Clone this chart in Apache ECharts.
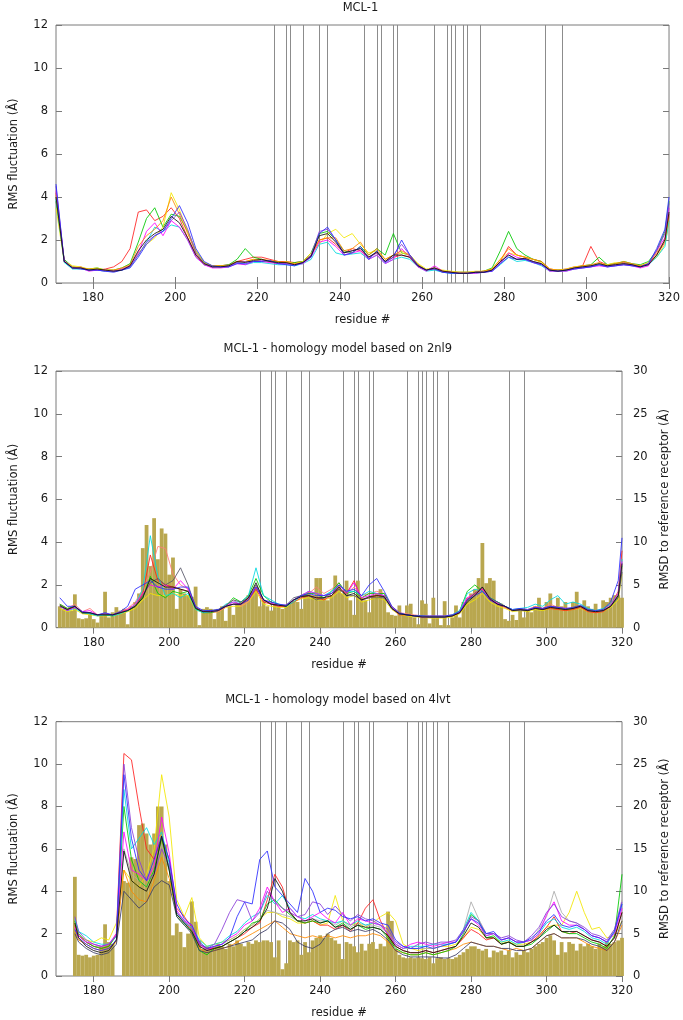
<!DOCTYPE html>
<html><head><meta charset="utf-8">
<script src="https://cdn.jsdelivr.net/npm/echarts@6/dist/echarts.min.js"></script>
<style>html,body{margin:0;padding:0;background:#fff}#c{width:683px;height:1020px}</style>
</head><body><div id="c"></div>
<script>
// ---------- DATA ----------
const xTicks = [180, 200, 220, 240, 260, 280, 300, 320];
const yTicksLeft = [0, 2, 4, 6, 8, 10, 12];
const yTicksRight = [0, 5, 10, 15, 20, 25, 30];
const contactResidues = [224, 227, 228, 231, 235, 237, 246, 249, 250, 253, 254, 263, 266, 267, 268, 270, 271, 274, 290, 294];
const panelTitles = ['MCL-1', 'MCL-1 - homology model based on 2nl9', 'MCL-1 - homology model based on 4lvt'];

// residues sampled for the RMS fluctuation curves
const resP1 = [171,173,175,177,179,181,183,185,187,189,191,193,195,197,199,201,203,205,207,209,211,213,215,217,219,221,223,225,227,229,231,233,235,237,239,241,243,245,247,249,251,253,255,257,259,261,263,265,267,269,271,273,275,277,279,281,283,285,287,289,291,293,295,297,299,301,303,305,307,309,311,313,315,317,319,320];
const resP2 = resP1;
const resP3 = [175,176,178,180,182,184,186,188,190,192,194,196,198,200,202,204,206,208,210,212,214,216,218,220,222,224,226,228,230,232,234,236,238,240,242,244,246,248,250,252,254,256,258,260,262,264,266,268,270,272,274,276,278,280,282,284,286,288,290,292,294,296,298,300,302,304,306,308,310,312,314,316,318,320];

// Panel 1: MCL-1 (RMS fluctuation, Å)
const p1Red     = [4.2,1.0,0.7,0.75,0.6,0.6,0.65,0.75,1.0,1.6, 3.3,3.4,2.9,3.1,3.5,3.0,2.1,1.3,0.85,0.75, 0.8,0.85,1.0,1.1,1.2,1.2,1.1,1.0,1.0,0.95, 1.0,1.3,2.0,2.1,1.8,1.4,1.6,1.5,1.2,1.4, 1.0,1.2,1.3,1.2,0.75,0.6,0.65,0.5,0.5,0.45, 0.45,0.5,0.55,0.6,1.0,1.7,1.3,1.2,1.1,1.0, 0.65,0.6,0.65,0.75,0.8,1.7,1.0,0.85,0.9,0.95, 0.85,0.8,0.85,1.3,1.9,3.2];
const p1Green   = [3.8,1.1,0.75,0.7,0.65,0.7,0.6,0.6,0.7,0.9, 1.9,3.0,3.5,2.6,3.2,3.1,2.4,1.5,0.95,0.8, 0.8,0.85,1.1,1.6,1.2,1.1,1.0,1.0,0.9,0.95, 1.0,1.4,2.3,2.4,2.0,1.5,1.4,1.7,1.3,1.6, 1.3,2.3,1.4,1.3,0.85,0.6,0.7,0.55,0.5,0.5, 0.5,0.5,0.55,0.7,1.5,2.4,1.6,1.3,1.1,1.0, 0.6,0.6,0.6,0.7,0.8,0.85,1.2,0.85,0.9,1.0, 0.9,0.85,1.0,1.5,2.4,3.8];
const p1Blue    = [4.6,1.0,0.7,0.65,0.6,0.6,0.55,0.5,0.6,0.7, 1.2,1.8,2.2,2.4,3.0,3.6,2.8,1.6,1.0,0.8, 0.75,0.75,0.9,0.9,1.0,1.0,1.05,0.9,0.85,0.8, 0.95,1.2,2.3,2.6,2.0,1.3,1.4,1.7,1.1,1.5, 0.95,1.2,2.0,1.3,0.8,0.6,0.65,0.5,0.45,0.45, 0.45,0.5,0.5,0.55,0.9,1.2,1.1,1.1,0.95,0.85, 0.6,0.55,0.6,0.65,0.7,0.75,0.85,0.75,0.8,0.85, 0.8,0.75,0.9,1.6,2.5,4.0];
const p1Yellow  = [3.5,1.0,0.8,0.75,0.65,0.7,0.6,0.6,0.65,0.8, 1.4,1.8,2.1,2.6,4.2,3.4,2.4,1.5,0.95,0.8, 0.8,0.8,1.0,1.0,1.1,1.0,1.0,0.9,1.0,0.9, 1.0,1.4,1.8,2.3,2.5,2.1,2.3,1.8,1.4,1.5, 1.1,1.3,1.4,1.3,0.9,0.65,0.7,0.6,0.55,0.5, 0.5,0.55,0.55,0.65,1.1,1.4,1.3,1.2,1.1,0.95, 0.65,0.6,0.65,0.75,0.8,0.8,0.9,0.85,0.95,0.9, 0.85,0.8,0.95,1.2,1.8,2.8];
const p1Magenta = [4.3,1.05,0.7,0.7,0.55,0.6,0.6,0.55,0.65,0.8, 1.4,2.4,2.8,2.2,2.9,2.6,2.0,1.2,0.85,0.7, 0.7,0.75,0.9,0.85,1.0,1.0,0.95,0.9,0.9,0.85, 0.9,1.2,1.9,2.0,1.7,1.3,1.4,1.5,1.1,1.3, 0.9,1.1,1.6,1.2,0.75,0.55,0.8,0.55,0.5,0.45, 0.45,0.45,0.5,0.55,0.9,1.4,1.2,1.1,0.95,0.85, 0.55,0.55,0.55,0.65,0.7,0.75,0.8,0.75,0.8,0.85, 0.8,0.7,0.8,1.5,2.1,3.5];
const p1Cyan    = [3.9,0.95,0.65,0.65,0.6,0.6,0.55,0.55,0.6,0.75, 1.3,1.9,2.6,2.4,2.7,2.6,2.0,1.2,0.85,0.75, 0.75,0.75,0.95,0.85,0.95,0.95,0.9,0.85,0.85,0.8, 0.9,1.1,1.8,1.9,1.4,1.3,1.35,1.4,1.1,1.3, 0.9,1.1,1.2,1.1,0.75,0.55,0.6,0.5,0.45,0.45, 0.45,0.45,0.5,0.55,0.85,1.2,1.0,1.05,0.95,0.8, 0.55,0.55,0.55,0.65,0.7,0.75,0.85,0.75,0.8,0.85, 0.8,0.75,0.85,1.2,1.7,2.9];
const p1Orange  = [4.1,1.0,0.75,0.7,0.65,0.65,0.6,0.6,0.7,0.85, 1.7,2.2,2.5,2.9,4.0,3.2,2.3,1.4,0.9,0.8, 0.8,0.8,1.0,1.0,1.1,1.1,1.05,1.0,0.95,0.9, 0.95,1.3,2.0,2.1,2.1,1.5,1.6,1.9,1.3,1.6, 1.1,1.3,1.5,1.3,0.85,0.6,0.7,0.55,0.5,0.5, 0.5,0.5,0.55,0.65,1.1,1.6,1.3,1.2,1.1,1.0, 0.65,0.6,0.6,0.7,0.8,0.85,0.95,0.8,0.9,1.0, 0.9,0.8,0.9,1.4,2.0,3.1];
const p1Purple  = [4.5,1.0,0.7,0.7,0.6,0.6,0.55,0.55,0.6,0.75, 1.3,1.9,2.2,2.4,2.9,3.3,2.5,1.4,0.9,0.75, 0.75,0.8,0.95,1.0,1.0,1.05,1.0,0.9,0.9,0.85, 0.95,1.3,2.4,2.5,2.0,1.4,1.5,1.6,1.2,1.4, 1.0,1.3,1.8,1.3,0.8,0.6,0.7,0.5,0.5,0.45, 0.45,0.5,0.5,0.6,0.95,1.3,1.1,1.1,1.0,0.9, 0.6,0.55,0.6,0.7,0.75,0.8,0.85,0.8,0.85,0.9, 0.85,0.75,0.9,1.5,2.3,3.7];
const p1Black   = [4.0,1.0,0.7,0.7,0.6,0.65,0.6,0.55,0.6,0.8, 1.5,2.0,2.3,2.5,3.1,2.8,2.1,1.3,0.9,0.75, 0.75,0.8,1.0,0.95,1.05,1.1,1.0,0.95,0.95,0.85, 0.95,1.25,2.2,2.3,1.9,1.4,1.5,1.6,1.2,1.45, 1.0,1.3,1.3,1.2,0.8,0.6,0.7,0.55,0.5,0.45, 0.45,0.5,0.5,0.6,1.0,1.3,1.1,1.15,1.0,0.9, 0.6,0.55,0.6,0.7,0.75,0.8,0.9,0.8,0.85,0.9, 0.85,0.75,0.85,1.3,2.0,3.3];

// Panel 2: homology model 2nl9 (RMS fluctuation, Å)
const p2Cyan    = [1.0,0.8,0.9,0.7,0.65,0.55,0.6,0.55,0.65,0.8, 1.1,1.8,4.3,2.4,1.5,1.6,1.4,1.6,0.85,0.7, 0.75,0.8,1.1,1.2,1.2,1.5,2.8,1.5,1.3,1.1, 1.0,1.2,1.5,1.7,1.6,1.5,1.7,2.0,1.7,1.7, 1.5,1.7,1.6,1.5,0.9,0.65,0.6,0.55,0.55,0.5, 0.5,0.5,0.6,0.8,1.6,1.8,1.7,1.4,1.2,1.0, 0.85,0.9,0.95,1.1,1.0,1.3,1.5,1.1,1.2,1.1, 0.9,0.8,0.9,1.1,1.6,3.2];
const p2Red     = [1.0,0.85,0.95,0.7,0.65,0.6,0.6,0.6,0.7,0.85, 1.0,1.6,3.4,2.2,2.0,1.9,1.8,1.7,0.9,0.75, 0.75,0.8,1.0,1.1,1.1,1.3,1.8,1.2,1.1,1.0, 1.0,1.2,1.4,1.5,1.4,1.3,1.5,1.8,1.6,2.2, 1.3,1.4,1.5,1.5,0.9,0.6,0.6,0.55,0.5,0.5, 0.5,0.5,0.55,0.7,1.3,1.6,1.8,1.3,1.1,0.95, 0.8,0.85,0.8,0.95,0.85,0.9,0.85,0.8,0.85,0.95, 0.75,0.7,0.75,1.0,1.7,3.6];
const p2Pink    = [1.1,0.9,1.1,0.75,0.9,0.6,0.65,0.6,0.75,0.9, 1.2,1.8,2.6,3.8,3.7,2.5,2.0,1.8,0.95,0.75, 0.7,0.75,0.95,1.3,1.0,1.2,1.9,1.3,1.1,1.0, 1.0,1.3,1.5,1.6,1.9,1.6,1.8,2.1,1.6,1.9, 1.5,1.6,1.7,1.6,1.0,0.7,0.65,0.6,0.55,0.55, 0.55,0.55,0.6,0.75,1.4,1.5,1.9,1.4,1.2,1.0, 0.8,0.9,0.85,1.0,0.9,1.1,0.95,0.85,0.9,1.0, 0.8,0.75,0.8,1.1,1.5,2.8];
const p2Gray    = [1.0,0.85,1.0,0.7,0.7,0.6,0.65,0.6,0.7,0.8, 1.0,1.5,2.1,2.3,2.0,2.2,2.8,2.0,0.95,0.75, 0.8,0.85,1.05,1.3,1.2,1.4,2.0,1.3,1.1,1.05, 1.05,1.4,1.5,1.5,1.3,1.4,1.6,1.8,1.5,1.5, 1.3,1.4,1.4,1.4,0.9,0.65,0.6,0.55,0.55,0.5, 0.5,0.5,0.55,0.7,1.3,1.6,1.9,1.4,1.2,1.0, 0.8,0.8,0.8,0.9,0.85,0.95,0.9,0.85,0.9,1.0, 0.8,0.75,0.8,1.0,1.4,2.6];
const p2Blue    = [1.4,1.0,1.0,0.75,0.7,0.6,0.7,0.6,0.75,1.0, 1.8,2.0,2.2,1.9,1.8,1.8,1.9,1.9,1.0,0.8, 0.8,0.85,1.0,1.1,1.1,1.3,1.9,1.3,1.2,1.1, 1.05,1.3,1.5,1.6,1.5,1.5,1.6,2.0,1.7,1.8, 1.5,2.0,2.3,1.7,1.0,0.7,0.6,0.55,0.55,0.55, 0.55,0.55,0.6,0.75,1.3,1.5,1.7,1.3,1.1,1.0, 0.85,0.9,0.85,0.95,0.9,1.0,0.95,0.9,0.95,1.05, 0.85,0.8,0.85,1.2,2.2,4.2];
const p2Green   = [1.1,0.9,1.0,0.7,0.65,0.6,0.6,0.55,0.7,0.8, 1.0,1.4,2.4,1.6,1.4,1.7,1.6,1.7,0.9,0.7, 0.7,0.8,1.0,1.4,1.2,1.5,2.3,1.5,1.2,1.1, 1.0,1.3,1.5,1.6,1.6,1.4,1.7,2.1,1.6,1.7, 1.4,1.6,1.6,1.6,0.95,0.65,0.6,0.55,0.5,0.5, 0.5,0.5,0.55,0.8,1.7,2.0,1.7,1.4,1.2,1.0, 0.8,0.85,0.8,0.95,0.9,1.0,0.95,0.85,0.9,1.0, 0.8,0.75,0.8,1.0,1.5,2.9];
const p2Yellow  = [0.9,0.75,0.85,0.65,0.6,0.55,0.55,0.55,0.65,0.75, 0.9,1.3,1.6,1.5,1.5,1.6,1.5,1.5,0.85,0.7, 0.7,0.75,0.95,1.0,1.0,1.2,1.7,1.1,1.0,0.95, 0.95,1.2,1.35,1.4,1.3,1.3,1.4,1.7,1.4,1.5, 1.2,1.3,1.4,1.3,0.85,0.6,0.55,0.5,0.5,0.45, 0.45,0.45,0.5,0.65,1.1,1.3,1.6,1.2,1.0,0.9, 0.75,0.8,0.75,0.85,0.8,0.9,0.85,0.8,0.85,0.9, 0.75,0.7,0.75,0.95,1.3,2.5];
const p2Magenta = [1.0,0.8,0.95,0.75,0.8,0.6,0.65,0.6,0.7,0.85, 1.1,1.6,2.0,1.9,2.0,1.8,2.2,1.8,0.95,0.75, 0.75,0.8,1.0,1.2,1.1,1.4,1.9,1.3,1.15,1.05, 1.05,1.3,1.5,1.7,1.6,1.5,1.6,2.0,1.6,2.1, 1.4,1.5,1.6,1.5,0.95,0.65,0.6,0.55,0.5,0.5, 0.5,0.5,0.55,0.75,1.4,1.6,1.8,1.35,1.15,1.0, 0.8,0.85,0.8,0.95,0.9,1.0,0.95,0.9,0.9,1.0, 0.8,0.75,0.8,1.05,1.6,3.1];
const p2Black   = [1.05,0.85,1.0,0.7,0.7,0.6,0.6,0.6,0.7,0.8, 1.0,1.4,2.3,2.1,1.9,1.9,1.8,1.7,0.9,0.75, 0.75,0.8,1.0,1.1,1.1,1.4,2.1,1.3,1.1,1.05, 1.0,1.3,1.45,1.5,1.4,1.4,1.5,1.9,1.5,1.6, 1.3,1.45,1.5,1.45,0.9,0.65,0.6,0.55,0.5,0.5, 0.5,0.5,0.55,0.7,1.2,1.5,1.9,1.35,1.1,1.0, 0.8,0.85,0.8,0.9,0.85,0.95,0.9,0.85,0.9,1.0, 0.8,0.75,0.8,1.0,1.5,3.0];

// Panel 3: homology model 4lvt (RMS fluctuation, Å)
const p3Red     = [2.4,1.9,1.6,1.4,1.3,1.4,2.0, 10.5,10.2,8.0,6.0,5.5,6.5,5.5,3.2,2.8,2.3, 1.5,1.3,1.3,1.4,1.6,1.8,2.0,2.3,2.5,3.6, 4.8,4.2,3.0,2.6,2.5,2.6,2.4,2.4,2.2,2.4, 2.1,2.5,3.2,3.6,2.6,1.9,1.4,1.2,1.1,1.1, 1.2,1.1,1.2,1.3,1.4,1.8,2.2,2.0,1.7,1.8, 1.5,1.6,1.4,1.4,1.6,1.9,2.3,2.8,2.1,2.0, 2.1,1.9,1.7,1.6,1.4,1.8,3.0];
const p3Blue    = [2.2,1.8,1.5,1.3,1.2,1.3,1.7, 9.5,6.5,5.0,4.5,5.5,6.6,5.5,3.4,2.7,2.4, 1.6,1.3,1.4,1.5,1.8,2.8,3.5,3.4,5.5,5.9, 4.2,3.8,3.4,3.0,4.6,4.0,3.0,3.2,3.1,2.8, 2.7,2.8,2.6,2.7,2.5,2.4,1.7,1.4,1.3,1.3, 1.4,1.3,1.4,1.5,1.6,2.1,2.7,2.5,2.0,2.1, 1.7,1.8,1.6,1.6,1.8,2.1,2.6,2.9,2.4,2.3, 2.4,2.2,1.9,1.8,1.6,2.1,3.4];
const p3Purple  = [2.8,2.1,1.7,1.5,1.4,1.5,1.9, 10.0,7.0,5.5,4.5,4.8,6.0,5.2,3.0,2.6,2.2, 1.5,1.3,1.5,2.2,3.0,3.6,3.5,2.6,3.0,4.0, 3.5,3.2,3.0,2.8,2.9,3.5,3.4,2.9,3.3,2.9, 2.6,2.9,2.7,2.6,2.4,2.2,1.6,1.4,1.3,1.5, 1.6,1.5,1.6,1.6,1.7,2.2,2.8,2.6,2.0,2.0, 1.8,1.9,1.7,1.6,1.9,2.3,3.0,3.4,2.8,2.6, 2.5,2.3,2.0,1.9,1.7,2.2,3.5];
const p3Yellow  = [2.3,1.9,1.7,1.6,1.8,1.7,2.5, 5.0,4.5,4.2,4.8,6.0,9.5,7.5,3.6,2.8,3.7, 1.8,1.4,1.5,1.6,1.7,1.9,2.2,2.4,2.7,3.0, 3.0,2.8,2.7,2.5,2.5,2.6,2.4,2.5,3.8,2.6, 2.4,2.5,2.3,2.5,2.8,3.0,2.6,1.5,1.3,1.2, 1.3,1.3,1.4,1.4,1.5,1.8,2.3,2.2,1.8,1.8, 1.6,1.6,1.5,1.5,1.6,1.9,2.3,2.4,2.4,3.0, 4.0,3.0,2.2,2.3,1.8,1.9,2.6];
const p3Green   = [2.6,2.0,1.6,1.4,1.3,1.4,1.9, 8.0,5.5,4.5,4.2,5.0,6.5,5.0,2.8,2.4,2.1, 1.2,1.0,1.3,1.4,1.6,1.8,2.1,2.5,2.6,3.4, 3.6,3.2,2.9,2.6,2.5,2.6,2.5,2.6,2.3,2.5, 2.2,2.4,2.2,2.3,2.2,1.8,1.3,1.1,1.0,1.0, 1.1,1.0,1.1,1.2,1.4,2.0,2.9,2.6,1.8,1.9, 1.5,1.6,1.4,1.4,1.5,1.8,2.1,2.4,2.1,2.0, 2.0,1.8,1.6,1.5,1.3,1.9,4.8];
const p3Cyan    = [2.7,2.1,1.9,1.6,1.5,1.5,1.9, 8.8,6.0,6.5,7.0,6.2,6.8,5.3,3.0,2.5,2.3, 1.7,1.4,1.5,1.6,1.9,2.1,2.5,2.8,3.0,3.8, 3.4,3.8,3.2,2.8,2.7,2.9,2.7,2.6,2.5,2.6, 2.4,2.6,2.4,2.5,2.4,2.0,1.5,1.3,1.4,1.4, 1.4,1.5,1.5,1.5,1.6,2.2,3.0,2.6,1.9,2.0, 1.6,1.7,1.5,1.6,1.7,2.0,2.5,2.7,2.3,2.2, 2.3,2.1,1.8,1.7,1.5,2.1,3.4];
const p3Magenta = [2.3,1.9,1.6,1.5,1.4,1.5,2.0, 6.8,5.0,4.8,4.5,5.2,7.5,5.8,3.1,2.6,2.4, 1.5,1.2,1.4,1.5,1.8,2.0,2.4,2.6,3.2,4.2, 3.5,3.0,3.2,2.8,2.6,2.8,3.0,2.7,2.5,3.0, 2.4,2.7,2.6,2.5,2.4,2.0,1.5,1.3,1.5,1.6, 1.5,1.4,1.5,1.6,1.6,2.1,2.7,2.4,1.9,2.0, 1.7,1.8,1.6,1.6,1.7,2.0,2.9,3.5,2.6,2.4, 2.4,2.2,1.9,1.8,1.6,2.0,3.2];
const p3Orange  = [2.1,1.7,1.5,1.3,1.2,1.3,1.6, 5.0,4.0,3.6,3.5,4.5,5.6,4.6,2.9,2.5,2.2, 1.3,1.1,1.2,1.3,1.4,1.6,1.8,2.0,2.2,2.4, 2.6,2.3,2.0,1.9,1.8,1.9,1.8,1.9,1.8,1.9, 1.8,1.9,1.9,2.0,1.9,1.6,1.2,1.1,1.0,1.0, 1.1,1.0,1.1,1.2,1.3,1.5,1.6,1.5,1.4,1.4, 1.3,1.2,1.3,1.2,1.3,1.6,1.9,2.0,1.8,1.8, 1.8,1.6,1.4,1.3,1.2,1.6,2.4];
const p3Slate   = [2.0,1.6,1.3,1.1,1.0,1.1,1.5, 4.0,3.6,3.2,3.5,4.2,4.5,4.3,2.8,2.4,2.0, 1.2,1.1,1.2,1.3,1.4,1.5,1.6,1.7,2.0,2.2, 2.6,2.5,2.2,1.6,1.4,1.3,1.5,2.0,2.2,2.3, 2.1,2.2,2.1,2.2,2.0,1.7,1.2,1.0,0.9,0.9, 0.9,0.9,0.85,0.85,1.0,1.3,1.6,1.5,1.4,1.4, 1.3,1.3,1.2,1.2,1.3,1.6,1.9,2.0,1.8,1.8, 1.8,1.7,1.5,1.4,1.2,1.6,2.6];
const p3Gray    = [2.4,1.9,1.6,1.4,1.4,1.5,1.9, 6.0,4.8,4.5,4.2,5.0,6.2,5.0,3.0,2.6,2.3, 1.5,1.3,1.4,1.5,1.7,1.9,2.2,2.4,2.7,3.1, 3.0,2.9,2.8,2.6,2.5,2.7,2.6,2.6,2.4,2.6, 2.3,2.5,2.4,2.4,2.3,2.0,1.5,1.3,1.3,1.3, 1.3,1.3,1.4,1.5,1.6,2.2,3.5,2.7,2.0,2.0, 1.7,1.8,1.6,1.6,1.7,2.2,2.8,4.0,3.0,2.6, 2.5,2.2,1.9,1.8,1.6,2.2,3.6];
const p3Black   = [2.5,1.8,1.4,1.2,1.1,1.2,1.7, 5.9,4.5,4.2,4.0,4.8,6.6,5.0,2.9,2.5,2.1, 1.4,1.2,1.3,1.4,1.6,1.8,2.1,2.3,2.6,3.2, 4.6,4.0,3.0,2.6,2.6,2.7,2.5,2.6,2.3,2.4, 2.2,2.4,2.3,2.3,2.2,1.9,1.4,1.2,1.1,1.1, 1.2,1.1,1.2,1.3,1.4,1.9,2.5,2.3,1.8,1.8, 1.5,1.6,1.4,1.4,1.6,1.8,2.2,2.4,2.1,2.1, 2.1,1.9,1.7,1.6,1.4,1.8,3.0];

// RMSD to reference receptor (Å), one bar per residue
const barsP2Start = 171;
const barsP2 = [2.5,2.2,2.1,2.0,3.9,1.1,1.0,1.1,1.5,1.0, 0.6,1.4,4.2,1.2,1.8,2.4,2.0,2.2,0.4,2.5, 3.0,4.0,9.3,12.0,7.2,12.8,8.0,11.6,11.0,6.2, 8.2,2.2,4.5,4.0,3.8,3.6,4.8,0.3,2.2,2.4, 2.2,1.0,2.2,2.5,0.8,2.5,1.5,2.8,3.0,3.2, 3.8,4.2,4.8,2.5,3.2,2.5,2.0,2.8,2.5,2.2, 2.5,2.8,3.2,3.0,2.2,4.0,4.2,3.8,5.8,5.8, 3.5,3.2,3.8,6.1,5.0,4.0,5.5,3.2,1.5,5.5, 3.5,3.2,1.8,3.8,4.0,4.5,3.8,1.8,1.5,1.4, 2.6,1.5,2.6,2.8,1.2,0.4,3.2,2.8,0.5,3.5, 1.2,0.3,3.1,0.3,1.2,2.6,1.2,3.0,3.5,4.0, 4.5,5.8,9.9,5.2,5.8,5.5,3.0,2.8,1.0,0.8, 1.5,0.9,2.0,1.2,2.0,1.8,2.5,3.5,2.2,3.0, 4.0,2.5,3.5,2.5,3.0,2.2,3.0,4.2,2.5,3.2, 2.5,2.2,2.8,2.0,3.2,3.0,3.5,3.8,3.8,3.5];
const barsP3Start = 175;
const barsP3 = [11.7,2.5,2.4,2.5,2.2,2.4,2.5,3.5,6.1,4.0, 3.8,0,0,11.2,11.0,14.0,13.8,17.8,18.0,16.8, 15.5,16.8,20.0,20.0,15.5,11.2,4.8,6.2,5.2,3.4, 5.0,8.8,6.4,4.2,3.2,3.5,3.2,3.5,3.8,3.5, 3.2,3.8,3.5,4.2,3.8,3.5,4.0,3.8,4.2,4.0, 4.2,4.2,4.0,2.2,4.2,0.8,1.5,4.2,4.0,4.2, 2.5,4.0,2.8,4.2,4.5,4.8,4.5,5.0,4.5,4.2, 3.8,2.0,4.0,3.8,3.5,2.8,3.8,3.0,3.8,4.0, 3.2,3.8,3.5,7.6,6.5,3.2,2.5,2.2,2.1,2.2, 2.1,2.2,2.1,2.0,2.2,1.5,2.1,2.2,2.0,2.1, 2.0,2.2,2.5,2.8,3.2,3.5,3.5,3.2,3.0,3.2, 2.2,3.0,2.8,3.0,2.5,3.0,2.2,2.8,2.5,3.0, 2.8,3.2,3.5,3.8,4.0,4.5,4.8,4.2,2.5,4.0, 2.8,4.0,3.8,3.0,3.8,3.5,3.8,3.5,3.2,3.8, 3.5,4.0,3.8,4.0,4.2,4.5];

// ---------- STYLE ----------
const FONT = 'DejaVu Sans';
const FS = 11.5;
const TXT = '#1a1a1a';
const FRAME = '#7a7a7a';
const VLINE = '#8c8c8c';
const OLIVE = '#b9a74f';
const C = {red:'#ff2020', green:'#00c800', blue:'#2a2aff', yellow:'#f2e600', magenta:'#ff00ff', cyan:'#00d8e0',
           orange:'#ff8a00', purple:'#8a3cd8', black:'#101010', pink:'#ff7a7a', gray:'#555566', slate:'#3c3c66', lgray:'#aaaaaa'};

const panels = [
  {left:51.4, top:25, width:618.1, height:258, xmin:171, right:false, xs:resP1, titleY:8,
   lines:[[p1Red,C.red],[p1Green,C.green],[p1Yellow,C.yellow],[p1Cyan,C.cyan],[p1Magenta,C.magenta],[p1Orange,C.orange],[p1Purple,C.purple],[p1Blue,C.blue],[p1Black,C.black]]},
  {left:53.6, top:371, width:568.4, height:256.7, xmin:170, right:true, xs:resP2, bars:barsP2, barStart:barsP2Start, titleY:349,
   lines:[[p2Yellow,C.yellow],[p2Pink,C.pink],[p2Red,C.red],[p2Green,C.green],[p2Cyan,C.cyan],[p2Magenta,C.magenta],[p2Gray,C.gray],[p2Blue,C.blue],[p2Black,C.black]]},
  {left:53.6, top:721.7, width:568.4, height:257.3, xmin:170, right:true, xs:resP3, bars:barsP3, barStart:barsP3Start, titleY:700,
   lines:[[p3Yellow,C.yellow],[p3Gray,C.lgray],[p3Orange,C.orange],[p3Red,C.red],[p3Green,C.green],[p3Cyan,C.cyan],[p3Magenta,C.magenta],[p3Purple,C.purple],[p3Blue,C.blue],[p3Slate,C.slate],[p3Black,C.black]]}
];

const tstyle = {fontFamily:FONT, fontSize:FS, color:TXT};
const grid=[], xAxis=[], yAxis=[], series=[], graphic=[];

panels.forEach((p,i)=>{
  grid.push({left:p.left, top:p.top, width:p.width, height:p.height, show:true, borderColor:FRAME, borderWidth:1, backgroundColor:'transparent'});
  const tick = {show:true, inside:true, length:6, lineStyle:{color:FRAME, width:1}};
  xAxis.push({gridIndex:i, type:'value', min:p.xmin, max:320, position:'bottom',
    axisLine:{show:false}, splitLine:{show:false},
    axisTick:Object.assign({customValues:xTicks}, tick),
    axisLabel:Object.assign({customValues:xTicks, margin:9}, tstyle),
    name:'residue #', nameLocation:'middle', nameGap:31, nameTextStyle:tstyle});
  xAxis.push({gridIndex:i, type:'value', min:p.xmin, max:320, position:'top',
    axisLine:{show:false}, splitLine:{show:false},
    axisTick:Object.assign({customValues:xTicks}, tick), axisLabel:{show:false}});
  yAxis.push({gridIndex:i, type:'value', min:0, max:12, position:'left',
    axisLine:{show:false}, splitLine:{show:false},
    axisTick:Object.assign({customValues:yTicksLeft}, tick),
    axisLabel:Object.assign({customValues:yTicksLeft, margin:8}, tstyle),
    name:'RMS fluctuation (Å)', nameLocation:'middle', nameGap:36, nameRotate:90, nameTextStyle:tstyle});
  if (p.right) {
    yAxis.push({gridIndex:i, type:'value', min:0, max:30, position:'right',
      axisLine:{show:false}, splitLine:{show:false},
      axisTick:Object.assign({customValues:yTicksRight}, tick),
      axisLabel:Object.assign({customValues:yTicksRight, margin:11}, tstyle),
      name:'RMSD to reference receptor (Å)', nameLocation:'middle', nameGap:37, nameRotate:90, nameTextStyle:tstyle});
  } else {
    yAxis.push({gridIndex:i, type:'value', min:0, max:12, position:'right',
      axisLine:{show:false}, splitLine:{show:false},
      axisTick:Object.assign({customValues:yTicksLeft}, tick), axisLabel:{show:false}});
  }
  const xi = 2*i, yl = 2*i, yr = 2*i+1;
  // vertical marker lines at contact residues
  series.push({type:'line', xAxisIndex:xi, yAxisIndex:yl, data:[], z:1, silent:true, animation:false,
    markLine:{silent:true, animation:false, symbol:['none','none'], label:{show:false}, z:1,
      lineStyle:{color:VLINE, width:1, type:'solid'}, emphasis:{disabled:true},
      data:contactResidues.map(r=>({xAxis:r}))}});
  if (p.bars) {
    series.push({type:'bar', xAxisIndex:xi, yAxisIndex:yr, z:2, silent:true, animation:false,
      barWidth: p.width/(320-p.xmin), itemStyle:{color:OLIVE},
      data:p.bars.map((v,k)=>[p.barStart+k, v])});
  }
  p.lines.forEach(([vals,col])=>{
    series.push({type:'line', xAxisIndex:xi, yAxisIndex:yl, z:3, silent:true, animation:false,
      symbol:'none', showSymbol:false, lineStyle:{width:1, color:col, opacity:0.85},
      data:p.xs.map((x,k)=>[x, vals[k]])});
  });
  graphic.push({type:'text', x:p.left + p.width/2, y:p.titleY,
    style:{text:panelTitles[i], textAlign:'center', textVerticalAlign:'middle', font:FS+'px "'+FONT+'"', fill:TXT}});
});

const chart = echarts.init(document.getElementById('c'), null, {renderer:'canvas'});
chart.setOption({animation:false, backgroundColor:'#fff', grid, xAxis, yAxis, series, graphic});
</script>
</body></html>
